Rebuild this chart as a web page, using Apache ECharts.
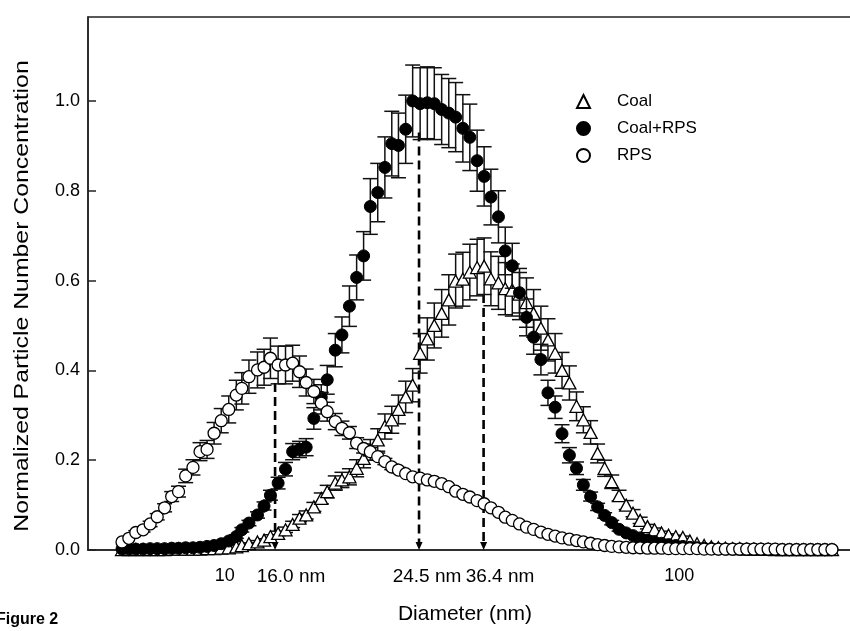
<!DOCTYPE html>
<html>
<head>
<meta charset="utf-8">
<script src="https://cdn.jsdelivr.net/npm/echarts@6/dist/echarts.min.js"></script>
<style>
html, body { margin: 0; padding: 0; background: #fff; }
#chart { width: 850px; height: 631px; }
</style>
</head>
<body>
<div id="chart"></div>
<script>
// SMPS channel mid-point diameters (nm)
var diameters = [
  5.94, 6.15, 6.37, 6.61, 6.85, 7.10, 7.37, 7.64, 7.91, 8.20,
  8.51, 8.82, 9.14, 9.47, 9.82, 10.2, 10.6, 10.9, 11.3, 11.8,
  12.2, 12.6, 13.1, 13.6, 14.1, 14.6, 15.1, 15.7, 16.3, 16.8,
  17.5, 18.1, 18.8, 19.5, 20.2, 20.9, 21.7, 22.5, 23.3, 24.1,
  25.0, 25.9, 26.9, 27.9, 28.9, 30.0, 31.1, 32.2, 33.4, 34.6,
  35.9, 37.2, 38.5, 40.0, 41.4, 42.9, 44.5, 46.1, 47.8, 49.6,
  51.4, 53.3, 55.2, 57.3, 59.4, 61.5, 63.8, 66.1, 68.5, 71.0,
  73.7, 76.4, 79.1, 82.0, 85.1, 88.2, 91.4, 94.7, 98.2, 101.8,
  105.5, 109.4, 113.4, 117.6, 121.9, 126.3, 131.0, 135.8, 140.7, 145.9,
  151.2, 156.8, 162.5, 168.5, 174.7, 181.1, 187.7, 194.6, 201.7, 209.1,
  216.7
]

var coal = [
  0.001, 0.001, 0.001, 0.001, 0.001, 0.001, 0.001, 0.002, 0.002, 0.002,
  0.002, 0.002, 0.003, 0.003, 0.004, 0.005, 0.007, 0.010, 0.014, 0.018,
  0.022, 0.030, 0.037, 0.045, 0.057, 0.071, 0.078, 0.096, 0.115, 0.130,
  0.149, 0.156, 0.163, 0.182, 0.204, 0.223, 0.245, 0.275, 0.290, 0.313,
  0.341, 0.367, 0.438, 0.470, 0.500, 0.527, 0.557, 0.599, 0.603, 0.619,
  0.629, 0.632, 0.604, 0.595, 0.582, 0.579, 0.570, 0.551, 0.527, 0.494,
  0.468, 0.438, 0.400, 0.372, 0.320, 0.290, 0.262, 0.215, 0.182, 0.152,
  0.121, 0.100, 0.082, 0.066, 0.052, 0.045, 0.038, 0.033, 0.030, 0.028,
  0.020, 0.014, 0.010, 0.007, 0.005, 0.004, 0.003, 0.003, 0.002, 0.002,
  0.002, 0.002, 0.001, 0.001, 0.001, 0.001, 0.001, 0.001, 0.001, 0.001,
  0.001
]
var coalErr = [
  0, 0, 0, 0, 0, 0, 0, 0, 0, 0,
  0, 0, 0, 0, 0, 0, 0, 0.002, 0.002, 0.003,
  0.003, 0.004, 0.005, 0.006, 0.007, 0.008, 0.009, 0.010, 0.012, 0.014,
  0.016, 0.017, 0.018, 0.019, 0.021, 0.023, 0.025, 0.028, 0.030, 0.032,
  0.035, 0.037, 0.044, 0.047, 0.050, 0.053, 0.056, 0.060, 0.060, 0.062,
  0.063, 0.063, 0.060, 0.059, 0.058, 0.058, 0.057, 0.055, 0.053, 0.049,
  0.047, 0.044, 0.040, 0.038, 0.032, 0.029, 0.026, 0.021, 0.018, 0.015,
  0.012, 0.010, 0.008, 0.007, 0.005, 0.004, 0.004, 0.003, 0.003, 0.003,
  0, 0, 0, 0, 0, 0, 0, 0, 0, 0,
  0, 0, 0, 0, 0, 0, 0, 0, 0, 0,
  0
]

var coalRps = [
  0.002, 0.002, 0.002, 0.002, 0.003, 0.003, 0.003, 0.004, 0.004, 0.005,
  0.005, 0.006, 0.008, 0.010, 0.014, 0.020, 0.030, 0.045, 0.060, 0.078,
  0.098, 0.122, 0.149, 0.180, 0.219, 0.224, 0.229, 0.293, 0.340, 0.379,
  0.445, 0.479, 0.543, 0.607, 0.655, 0.765, 0.796, 0.852, 0.905, 0.901,
  0.937, 1.000, 0.994, 0.996, 0.994, 0.981, 0.973, 0.964, 0.939, 0.919,
  0.867, 0.832, 0.786, 0.742, 0.666, 0.633, 0.573, 0.518, 0.474, 0.424,
  0.350, 0.318, 0.259, 0.211, 0.182, 0.145, 0.119, 0.096, 0.077, 0.061,
  0.046, 0.038, 0.032, 0.027, 0.022, 0.018, 0.015, 0.012, 0.010, 0.008,
  0.006, 0.005, 0.004, 0.003, 0.002, 0.002, 0.002, 0.002, 0.002, 0.002,
  0.001, 0.001, 0.001, 0.001, 0.001, 0.001, 0.001, 0.001, 0.001, 0.001,
  0.001
]
var coalRpsErr = [
  0, 0, 0, 0, 0, 0, 0, 0, 0, 0,
  0, 0, 0, 0, 0.002, 0.003, 0.004, 0.005, 0.006, 0.007,
  0.009, 0.011, 0.013, 0.015, 0.018, 0.018, 0.019, 0.024, 0.028, 0.032,
  0.037, 0.040, 0.045, 0.050, 0.054, 0.062, 0.065, 0.068, 0.072, 0.072,
  0.076, 0.080, 0.080, 0.080, 0.080, 0.078, 0.077, 0.077, 0.075, 0.074,
  0.068, 0.066, 0.062, 0.058, 0.053, 0.050, 0.045, 0.041, 0.038, 0.034,
  0.028, 0.025, 0.020, 0.017, 0.014, 0.012, 0.010, 0.008, 0.006, 0.005,
  0.004, 0.003, 0, 0, 0, 0, 0, 0, 0, 0,
  0, 0, 0, 0, 0, 0, 0, 0, 0, 0,
  0, 0, 0, 0, 0, 0, 0, 0, 0, 0,
  0
]

var rps = [
  0.018, 0.026, 0.039, 0.045, 0.058, 0.074, 0.094, 0.119, 0.130, 0.165,
  0.184, 0.219, 0.224, 0.260, 0.288, 0.313, 0.345, 0.360, 0.386, 0.401,
  0.407, 0.427, 0.412, 0.412, 0.416, 0.397, 0.373, 0.353, 0.327, 0.308,
  0.286, 0.271, 0.261, 0.238, 0.226, 0.219, 0.208, 0.197, 0.185, 0.178,
  0.170, 0.163, 0.160, 0.156, 0.153, 0.148, 0.141, 0.131, 0.124, 0.118,
  0.110, 0.103, 0.094, 0.084, 0.073, 0.066, 0.058, 0.051, 0.046, 0.040,
  0.035, 0.031, 0.027, 0.024, 0.021, 0.018, 0.015, 0.012, 0.010, 0.008,
  0.007, 0.006, 0.005, 0.005, 0.004, 0.004, 0.004, 0.003, 0.003, 0.003,
  0.003, 0.003, 0.002, 0.002, 0.002, 0.002, 0.002, 0.002, 0.002, 0.002,
  0.002, 0.002, 0.002, 0.001, 0.001, 0.001, 0.001, 0.001, 0.001, 0.001,
  0.001
]
var rpsErr = [
  0, 0, 0.004, 0.005, 0.006, 0.007, 0.009, 0.011, 0.012, 0.015,
  0.017, 0.020, 0.020, 0.024, 0.027, 0.030, 0.033, 0.035, 0.037, 0.040,
  0.040, 0.045, 0.042, 0.042, 0.040, 0.035, 0.030, 0.027, 0.024, 0.021,
  0.018, 0.016, 0.014, 0.012, 0.010, 0.009, 0.008, 0.007, 0.006, 0.006,
  0, 0, 0, 0, 0, 0, 0, 0, 0, 0,
  0, 0, 0, 0, 0, 0, 0, 0, 0, 0,
  0, 0, 0, 0, 0, 0, 0, 0, 0, 0,
  0, 0, 0, 0, 0, 0, 0, 0, 0, 0,
  0, 0, 0, 0, 0, 0, 0, 0, 0, 0,
  0, 0, 0, 0, 0, 0, 0, 0, 0, 0,
  0
]

// dashed mode markers: position on the axis, top of the line, label
var modeX = [12.9, 26.75, 37.1]
var modeTop = [0.372, 0.93, 0.57]
var modeLabels = ['16.0 nm', '24.5 nm', '36.4 nm']

var xLabels = [10, 100]

var FONT = '"Liberation Sans", Arial, Helvetica, sans-serif'

function points(ys){
  return diameters.map(function(d, i){ return [d, ys[i]] })
}

function errorSeries(ys, errs, z){
  return {
    type: 'custom',
    z: z,
    silent: true,
    data: diameters.map(function(d, i){ return [d, ys[i] - errs[i], ys[i] + errs[i], errs[i]] }),
    encode: { x: 0, y: [1, 2] },
    renderItem: function(params, api){
      if (!(api.value(3) > 0)) return null
      var lo = api.coord([api.value(0), api.value(1)])
      var hi = api.coord([api.value(0), api.value(2)])
      var w = 7.5
      var st = { stroke: '#111', lineWidth: 1.5 }
      return {
        type: 'group',
        children: [
          { type: 'line', shape: { x1: lo[0], y1: lo[1], x2: hi[0], y2: hi[1] }, style: st },
          { type: 'line', shape: { x1: hi[0] - w, y1: hi[1], x2: hi[0] + w, y2: hi[1] }, style: st },
          { type: 'line', shape: { x1: lo[0] - w, y1: lo[1], x2: lo[0] + w, y2: lo[1] }, style: st }
        ]
      }
    }
  }
}

var chart = echarts.init(document.getElementById('chart'), null, { renderer: 'canvas' })

var graphics = [
  {
    type: 'text', x: 22, y: 296, rotation: Math.PI / 2, scaleX: 1.24,
    style: { text: 'Normalized Particle Number Concentration', font: '20px ' + FONT, fill: '#000', align: 'center', verticalAlign: 'middle' }
  },
  {
    type: 'text', x: 465, y: 614,
    style: { text: 'Diameter (nm)', font: '21px ' + FONT, fill: '#000', align: 'center', verticalAlign: 'middle' }
  },
  {
    type: 'text', x: -4, y: 620,
    style: { text: 'Figure 2', font: 'bold 16px ' + FONT, fill: '#000', align: 'left', verticalAlign: 'middle' }
  }
]
var labelCenters = [291, 427, 500]
for (var i = 0; i < modeLabels.length; i++) {
  graphics.push({
    type: 'text', x: labelCenters[i], y: 577,
    style: { text: modeLabels[i], font: '19px ' + FONT, fill: '#000', align: 'center', verticalAlign: 'middle' }
  })
}

var option = {
  animation: false,
  backgroundColor: '#fff',
  grid: {
    left: 88, width: 775, top: 17, bottom: 81,
    outerBoundsMode: 'none', containLabel: false,
    show: true, borderColor: '#222', borderWidth: 1.5
  },
  legend: {
    data: ['Coal', 'Coal+RPS', 'RPS'],
    orient: 'vertical',
    left: 571, top: 88,
    itemWidth: 13, itemHeight: 13, itemGap: 10,
    textStyle: { fontFamily: FONT, fontSize: 17, color: '#000', padding: [0, 0, 0, 22] }
  },
  xAxis: {
    type: 'log', logBase: 10, min: 5, max: 253.6,
    axisLine: { show: true, onZero: false, lineStyle: { color: '#222', width: 1.5 } },
    axisTick: { show: false },
    splitLine: { show: false },
    axisLabel: {
      margin: 17, fontFamily: FONT, fontSize: 18, color: '#000',
      formatter: function(v){
        for (var k = 0; k < xLabels.length; k++) {
          if (Math.abs(v - xLabels[k]) < 1e-6 * xLabels[k]) return String(xLabels[k])
        }
        return ''
      }
    }
  },
  yAxis: {
    type: 'value', min: 0, max: 1.187, interval: 0.2,
    axisLine: { show: true, lineStyle: { color: '#222', width: 1.5 } },
    axisTick: { show: true, inside: true, length: 8, lineStyle: { color: '#222', width: 1.5 } },
    splitLine: { show: false },
    axisLabel: {
      margin: 8, fontFamily: FONT, fontSize: 18, color: '#000', showMaxLabel: false,
      formatter: function(v){ return v.toFixed(1) }
    }
  },
  graphic: graphics,
  series: [
    {
      type: 'custom', z: 1, silent: true,
      data: modeX.map(function(x, i){ return [x, modeTop[i]] }),
      encode: { x: 0, y: 1 },
      renderItem: function(params, api){
        var top = api.coord([api.value(0), api.value(1)])
        var bot = api.coord([api.value(0), 0])
        return {
          type: 'group',
          children: [
            { type: 'line', shape: { x1: top[0], y1: top[1], x2: bot[0], y2: bot[1] - 6 }, style: { stroke: '#000', lineWidth: 2.6, lineDash: [9, 5] } },
            { type: 'polygon', shape: { points: [[bot[0] - 3.5, bot[1] - 8], [bot[0] + 3.5, bot[1] - 8], [bot[0], bot[1]]] }, style: { fill: '#000' } }
          ]
        }
      }
    },
    errorSeries(coal, coalErr, 2),
    {
      name: 'Coal', type: 'scatter', z: 3, symbol: 'triangle', symbolSize: [13, 12],
      itemStyle: { color: '#fff', borderColor: '#000', borderWidth: 1.3, opacity: 1 },
      data: points(coal)
    },
    errorSeries(coalRps, coalRpsErr, 4),
    {
      name: 'Coal+RPS', type: 'scatter', z: 5, symbol: 'circle', symbolSize: 12,
      itemStyle: { color: '#000', borderColor: '#000', borderWidth: 1, opacity: 1 },
      data: points(coalRps)
    },
    errorSeries(rps, rpsErr, 6),
    {
      name: 'RPS', type: 'scatter', z: 7, symbol: 'circle', symbolSize: 12,
      itemStyle: { color: '#fff', borderColor: '#000', borderWidth: 1.3, opacity: 1 },
      data: points(rps)
    }
  ]
}

chart.setOption(option)
</script>
</body>
</html>
